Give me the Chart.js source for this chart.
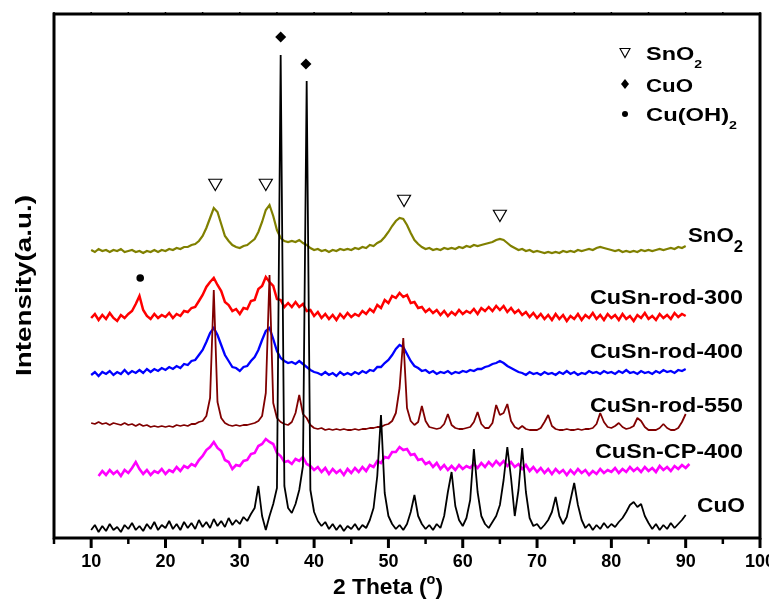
<!DOCTYPE html>
<html>
<head>
<meta charset="utf-8">
<script src="https://cdn.jsdelivr.net/npm/chart.js@4.4.0/dist/chart.umd.min.js"></script>
<style>
  html, body { margin: 0; padding: 0; background: #fff; }
  canvas { display: block; }
</style>
</head>
<body>
<canvas id="chart" width="769" height="599"></canvas>
<script>
// 2 theta grid (deg), shared by all patterns
const twoTheta = [
  10,10.5,11,11.5,12,12.5,13,13.5,14,14.5,
  15,15.5,16,16.5,17,17.5,18,18.5,19,19.5,
  20,20.5,21,21.5,22,22.5,23,23.5,24,24.5,
  25,25.5,26,26.5,27,27.5,28,28.5,29,29.5,
  30,30.5,31,31.5,32,32.5,33,33.5,34,34.5,
  35,35.5,36,36.5,37,37.5,38,38.5,39,39.5,
  40,40.5,41,41.5,42,42.5,43,43.5,44,44.5,
  45,45.5,46,46.5,47,47.5,48,48.5,49,49.5,
  50,50.5,51,51.5,52,52.5,53,53.5,54,54.5,
  55,55.5,56,56.5,57,57.5,58,58.5,59,59.5,
  60,60.5,61,61.5,62,62.5,63,63.5,64,64.5,
  65,65.5,66,66.5,67,67.5,68,68.5,69,69.5,
  70,70.5,71,71.5,72,72.5,73,73.5,74,74.5,
  75,75.5,76,76.5,77,77.5,78,78.5,79,79.5,
  80,80.5,81,81.5,82,82.5,83,83.5,84,84.5,
  85,85.5,86,86.5,87,87.5,88,88.5,89,89.5,
  90,90.5
];

// intensities (a.u., already offset for stacking)
const sno2Counts = [
  288,286,289,287,288,286,288,287,289,286,
  287,288,286,287,285,287,286,288,286,288,
  287,289,288,290,289,291,291,293,294,297,
  302,310,320,330,326,314,302,297,293,291,
  290,292,293,296,299,306,316,328,333,322,
  308,300,297,296,297,296,298,295,293,290,
  288,289,287,288,286,288,287,289,288,289,
  288,290,289,291,290,293,292,295,297,301,
  306,312,317,320,319,313,305,298,294,291,
  289,290,288,289,288,290,289,290,289,291,
  290,292,291,293,292,293,294,295,296,298,
  299,298,295,292,290,288,289,287,288,286,
  287,286,285,286,285,286,285,287,286,287,
  286,288,287,288,289,288,290,291,290,289,
  288,287,288,286,287,286,287,286,288,287,
  288,287,288,289,288,289,290,289,291,290,
  292,null
];

const rod300Counts = [
  220,224,218,223,219,225,220,217,223,220,
  224,227,234,242,228,222,219,224,220,223,
  221,225,220,224,222,227,226,230,231,237,
  243,251,256,260,253,247,236,233,227,229,
  224,230,229,237,238,249,252,261,256,252,
  239,238,231,235,231,236,231,234,227,228,
  222,226,220,224,219,223,218,224,220,225,
  221,224,222,227,224,229,226,233,230,238,
  235,242,240,245,241,243,235,236,230,231,
  226,229,225,228,223,227,222,226,223,228,
  224,227,225,229,224,230,227,231,227,232,
  228,232,226,230,225,228,223,226,221,225,
  220,224,219,223,218,224,219,223,217,222,
  219,224,218,223,220,225,219,223,218,224,
  220,223,218,224,219,222,217,223,220,225,
  219,222,218,224,220,223,219,225,221,224,
  222,null
];

const rod400Counts = [
  163,166,162,166,164,167,163,166,164,168,
  164,167,165,168,165,169,166,169,167,170,
  168,171,169,172,170,174,173,177,178,183,
  188,196,205,210,203,193,183,177,171,170,
  167,171,172,177,181,188,198,207,210,199,
  187,180,177,175,176,174,177,174,171,168,
  166,165,163,166,163,165,162,166,163,165,
  163,166,164,167,165,168,167,171,171,175,
  178,183,189,193,191,184,177,172,170,167,
  168,165,167,164,166,165,167,164,166,165,
  167,166,168,167,169,169,171,172,174,175,
  177,175,172,170,168,166,165,163,166,164,
  165,163,166,164,165,163,166,164,167,164,
  166,163,165,164,167,165,166,164,167,165,
  166,164,167,165,168,165,166,164,167,165,
  166,164,167,165,168,166,167,165,168,167,
  169,null
];

const rod550Counts = [
  115,114,116,114,115,113,115,114,113,115,
  113,114,112,114,112,113,111,112,111,112,
  111,112,111,113,112,113,112,114,114,116,
  117,122,140,248,136,120,115,113,112,113,
  112,113,113,114,115,117,122,145,263,135,
  120,116,114,113,116,125,143,124,120,113,
  110,109,110,108,109,108,109,108,109,108,
  108,109,108,109,109,110,110,111,111,113,
  114,117,125,150,200,130,117,113,116,132,
  117,111,110,109,110,114,124,113,110,109,
  109,110,111,116,126,114,110,110,115,133,
  123,125,134,117,111,109,112,109,108,108,
  108,110,116,123,112,109,108,108,109,108,
  108,109,108,109,109,110,114,125,116,111,
  110,112,115,111,109,110,112,120,117,111,
  108,108,108,110,114,110,108,108,110,116,
  124,null
];

const cp400Counts = [
  null,null,62,67,63,68,64,67,62,68,
  65,70,76,69,64,68,63,67,65,69,
  64,68,66,71,67,72,70,74,72,78,
  82,88,91,96,90,87,78,76,69,73,
  72,77,78,84,85,92,94,99,96,94,
  85,82,76,77,74,79,77,81,74,72,
  68,71,66,70,64,69,65,68,63,69,
  65,70,66,71,67,73,71,77,75,81,
  80,86,86,91,88,89,83,84,78,79,
  74,76,71,75,69,73,68,72,68,73,
  69,72,70,74,70,75,71,76,72,77,
  73,77,72,76,71,74,69,73,67,71,
  66,70,65,69,64,69,65,68,63,68,
  64,69,65,68,63,67,64,69,65,68,
  66,70,65,69,66,71,67,70,66,71,
  67,70,66,72,68,71,67,72,69,73,
  70,74
];

const cuoCounts = [
  8,13,6,12,7,14,8,11,6,13,
  9,15,8,12,7,14,9,16,8,13,
  10,17,9,14,8,16,10,15,9,18,
  11,16,10,19,12,17,11,20,13,18,
  14,21,17,24,30,52,22,8,22,34,
  50,483,52,30,25,34,48,72,457,48,
  26,17,12,16,9,14,8,13,7,12,
  9,14,8,13,10,18,30,62,123,45,
  22,14,9,13,8,14,26,43,22,14,
  9,13,8,14,10,22,46,66,32,18,
  12,20,38,89,46,22,14,10,16,22,
  33,58,91,60,22,48,90,46,20,12,
  14,9,13,18,26,41,22,14,21,38,
  55,33,18,10,14,8,13,9,15,10,
  14,11,16,20,26,33,36,31,34,22,
  15,9,14,8,13,9,15,10,14,18,
  23,null
];

// phase markers above the reflections
const sno2PeakTheta = [26.7, 33.5, 52.1, 65.0];
const sno2PeakMark  = [355, 355, 339, 324];
const cuoPeakTheta  = [35.5, 38.9];
const cuoPeakMark   = [501, 474];
const cuohPeakTheta = [16.6];
const cuohPeakMark  = [260];

// axis
const xTicks = [10, 20, 30, 40, 50, 60, 70, 80, 90, 100];
const xMinorTicks = [5, 15, 25, 35, 45, 55, 65, 75, 85, 95];
const legendNames = ["SnO2", "CuO", "Cu(OH)2"];

const FONT = '"Liberation Sans", Arial, Helvetica, sans-serif';

// draw order: first dataset ends up on top
const lineSeries = [
  { name: "CuO",          values: cuoCounts,    color: "#000000", width: 1.8, join: "bevel" },
  { name: "CuSn-rod-550", values: rod550Counts, color: "#800000", width: 1.8, join: "bevel" },
  { name: "CuSn-CP-400",  values: cp400Counts,  color: "#ff00ff", width: 2.6, join: "miter" },
  { name: "CuSn-rod-400", values: rod400Counts, color: "#0000ff", width: 2.3, join: "miter" },
  { name: "CuSn-rod-300", values: rod300Counts, color: "#ff0000", width: 2.5, join: "miter" },
  { name: "SnO2",         values: sno2Counts,   color: "#808000", width: 2.2, join: "miter" },
];

const toPoints = (xs, ys) => xs.map((x, i) => ({ x, y: ys[i] }));

const datasets = [
  {
    label: "SnO2 marks", data: toPoints(sno2PeakTheta, sno2PeakMark), showLine: false,
    pointStyle: "triangle", rotation: 180, pointRadius: 7.5,
    pointBackgroundColor: "rgba(0,0,0,0)", pointBorderColor: "#000", pointBorderWidth: 1.2
  },
  {
    label: "CuO marks", data: toPoints(cuoPeakTheta, cuoPeakMark), showLine: false,
    pointStyle: "rectRot", pointRadius: 5.5,
    pointBackgroundColor: "#000", pointBorderColor: "#000", pointBorderWidth: 0
  },
  {
    label: "Cu(OH)2 marks", data: toPoints(cuohPeakTheta, cuohPeakMark), showLine: false,
    pointStyle: "circle", pointRadius: 3.8,
    pointBackgroundColor: "#000", pointBorderColor: "#000", pointBorderWidth: 0
  },
  ...lineSeries.map(s => ({
    label: s.name,
    data: toPoints(twoTheta, s.values),
    borderColor: s.color,
    borderWidth: s.width,
    borderJoinStyle: s.join,
    pointRadius: 0,
    tension: 0,
    spanGaps: false,
  }))
];

// text helpers: runs drawn side by side, squeezed/stretched to fit a box
function drawRuns(ctx, runs, x0, x1, baseline) {
  let w = 0;
  runs.forEach(r => {
    ctx.font = `bold ${r.size}px ${FONT}`;
    r.w = ctx.measureText(r.t).width;
    w += r.w;
  });
  const sx = x1 ? (x1 - x0) / w : 1;
  ctx.save();
  ctx.translate(x0, baseline);
  ctx.scale(sx, 1);
  ctx.textAlign = "left";
  ctx.textBaseline = "alphabetic";
  let cx = 0;
  runs.forEach(r => {
    ctx.font = `bold ${r.size}px ${FONT}`;
    ctx.fillText(r.t, cx, r.dy || 0);
    cx += r.w;
  });
  ctx.restore();
}

function nameRuns(name, size, subRatio, subDy) {
  const m = name.match(/^(.*[O)])2$/);
  if (m) return [{ t: m[1], size }, { t: "2", size: size * subRatio, dy: subDy }];
  return [{ t: name, size }];
}

const overlay = {
  id: "overlay",
  afterDraw(chart) {
    const ctx = chart.ctx;
    const a = chart.chartArea;
    const xs = chart.scales.x;
    ctx.save();
    ctx.fillStyle = "#000";
    ctx.strokeStyle = "#000";

    // frame
    ctx.lineWidth = 3;
    ctx.strokeRect(a.left, a.top, a.right - a.left, a.bottom - a.top);

    // ticks
    xTicks.forEach(v => {
      const px = xs.getPixelForValue(v);
      ctx.lineWidth = 3;
      ctx.beginPath(); ctx.moveTo(px, a.bottom); ctx.lineTo(px, a.bottom + 10); ctx.stroke();
      ctx.lineWidth = 1.5;
      ctx.beginPath(); ctx.moveTo(px, a.top); ctx.lineTo(px, a.top - 2); ctx.stroke();
    });
    xMinorTicks.forEach(v => {
      const px = xs.getPixelForValue(v);
      ctx.lineWidth = 2.5;
      ctx.beginPath(); ctx.moveTo(px, a.bottom); ctx.lineTo(px, a.bottom + 6); ctx.stroke();
      ctx.lineWidth = 1.5;
      ctx.beginPath(); ctx.moveTo(px, a.top); ctx.lineTo(px, a.top - 2); ctx.stroke();
    });

    // tick labels
    ctx.font = `bold 18px ${FONT}`;
    ctx.textAlign = "center";
    ctx.textBaseline = "alphabetic";
    xTicks.forEach(v => ctx.fillText(String(v), xs.getPixelForValue(v), 567));

    // axis titles
    drawRuns(ctx, [
      { t: "2 Theta (", size: 22 },
      { t: "o", size: 14, dy: -10 },
      { t: ")", size: 22 }
    ], 333, 443, 594);

    ctx.save();
    ctx.translate(31, 376);
    ctx.rotate(-Math.PI / 2);
    drawRuns(ctx, [{ t: "Intensity(a.u.)", size: 22 }], 0, 181, 0);
    ctx.restore();

    // pattern names, right side
    const nameBoxes = {
      "SnO2":         [688, 743, 242],
      "CuSn-rod-300": [590, 743, 304],
      "CuSn-rod-400": [590, 743, 358],
      "CuSn-rod-550": [590, 743, 412],
      "CuSn-CP-400":  [595, 743, 458],
      "CuO":          [697, 745, 512],
    };
    lineSeries.forEach(s => {
      const b = nameBoxes[s.name];
      drawRuns(ctx, nameRuns(s.name, 21, 0.75, 10), b[0], b[1], b[2]);
    });

    // phase legend, top right
    const legendBoxes = [[646, 702, 60], [646, 693, 92], [646, 737, 121]];
    const symY = [53, 84, 114];
    // open down-triangle
    ctx.lineWidth = 1.1;
    ctx.beginPath();
    ctx.moveTo(620, symY[0] - 4.5);
    ctx.lineTo(630, symY[0] - 4.5);
    ctx.lineTo(625, symY[0] + 4.5);
    ctx.closePath();
    ctx.stroke();
    // diamond
    ctx.beginPath();
    ctx.moveTo(625, symY[1] - 5);
    ctx.lineTo(629, symY[1]);
    ctx.lineTo(625, symY[1] + 5);
    ctx.lineTo(621, symY[1]);
    ctx.closePath();
    ctx.fill();
    // dot
    ctx.beginPath();
    ctx.arc(625, symY[2], 3, 0, Math.PI * 2);
    ctx.fill();

    legendNames.forEach((n, i) => {
      const b = legendBoxes[i];
      drawRuns(ctx, nameRuns(n, 19, 0.6, 8), b[0], b[1], b[2]);
    });

    ctx.restore();
  }
};

new Chart(document.getElementById("chart"), {
  type: "line",
  data: { datasets },
  options: {
    responsive: false,
    animation: false,
    devicePixelRatio: 1,
    layout: { padding: { left: 54, right: 9, top: 14, bottom: 61 } },
    plugins: { legend: { display: false }, tooltip: { enabled: false } },
    scales: {
      x: { type: "linear", min: 5, max: 100, display: false },
      y: { min: 0, max: 524, display: false }
    }
  },
  plugins: [overlay]
});
</script>
</body>
</html>
